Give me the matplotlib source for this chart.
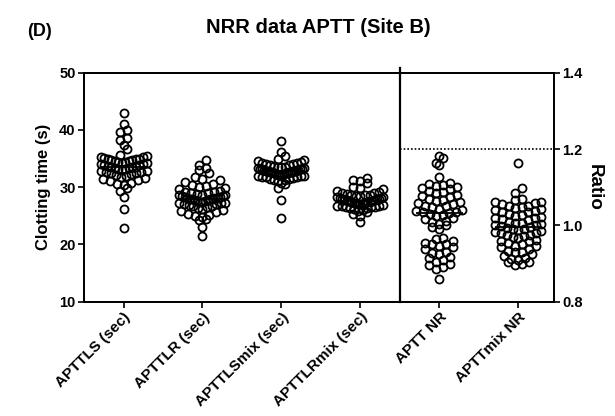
import numpy as np
import matplotlib
matplotlib.use("Agg")
import matplotlib.pyplot as plt

plt.rcParams["font.family"] = ["Liberation Sans", "DejaVu Sans"]
plt.rcParams["font.weight"] = "bold"

categories = ["APTTLS (sec)", "APTTLR (sec)", "APTTLSmix (sec)", "APTTLRmix (sec)",
              "APTT NR", "APTTmix NR"]

aptt_ls = [43.0, 41.0, 40.0, 39.6, 38.6, 38.3, 37.4, 36.6,
           35.7, 35.5, 35.3, 35.2, 35.1, 35.0, 34.9, 34.85, 34.8,
           34.7, 34.6, 34.5, 34.45, 34.4, 34.3, 34.2, 34.1, 34.0, 33.9, 33.8, 33.7,
           33.6,
           33.5, 33.45, 33.4, 33.3, 33.2, 33.1, 33.0, 32.9, 32.8, 32.7, 32.6, 32.5,
           32.4, 32.3, 32.1, 32.0,
           31.8, 31.6, 31.4, 31.2, 31.0, 30.8, 30.6, 30.4,
           29.8, 29.4, 28.3, 26.2, 22.9]
aptt_lr = [34.7, 33.9, 33.4, 33.0, 32.4, 31.7, 31.5, 31.2, 30.9, 30.6, 30.4, 30.2, 30.0,
           29.8, 29.6, 29.4, 29.2, 29.0, 28.9, 28.8, 28.7, 28.6, 28.5, 28.4, 28.3, 28.2,
           28.1, 28.0, 28.0, 27.9, 27.8, 27.7, 27.6, 27.5, 27.4, 27.3, 27.2, 27.1, 27.0,
           26.9, 26.8, 26.6, 26.4, 26.2, 26.0, 25.8, 25.6, 25.4, 25.2, 25.0, 24.8, 24.5,
           24.3, 23.0, 21.5, 27.9, 28.1, 27.6, 28.3, 27.3, 26.7, 29.1, 28.6]
aptt_lsmix = [38.0, 36.2, 35.4, 35.0, 34.7, 34.5, 34.4, 34.3, 34.2, 34.1, 34.0, 33.9, 33.8,
              33.7, 33.6, 33.5, 33.4, 33.3, 33.2, 33.1, 33.0, 33.0, 32.9, 32.8, 32.8, 32.7,
              32.6, 32.6, 32.5, 32.5, 32.4, 32.3, 32.3, 32.2, 32.1, 32.0, 32.0, 31.9, 31.8,
              31.7, 31.6, 31.5, 31.4, 31.3, 31.2, 31.0, 30.8, 30.5, 29.9, 27.8, 24.7, 33.5,
              33.2, 32.9, 32.2, 31.8, 32.7, 33.1]
aptt_lrmix = [31.6, 31.3, 31.0, 30.8, 30.1, 29.8, 29.6, 29.4, 29.2, 29.0, 28.9, 28.8, 28.7,
              28.6, 28.5, 28.4, 28.3, 28.2, 28.1, 28.0, 27.9, 27.8, 27.7, 27.6, 27.6, 27.5,
              27.4, 27.3, 27.2, 27.1, 27.0, 26.9, 26.8, 26.7, 26.6, 26.5, 26.4, 26.3, 26.2,
              26.0, 25.8, 25.6, 25.4, 25.0, 24.0, 28.0, 27.8, 27.5, 27.2, 26.8, 28.3, 26.5,
              27.0, 28.6]
aptt_nr = [1.182, 1.176, 1.164, 1.158, 1.127,
           1.110, 1.108, 1.105, 1.102, 1.100, 1.098, 1.095,
           1.090, 1.087, 1.084, 1.080, 1.077, 1.074, 1.070,
           1.067, 1.064, 1.060, 1.058, 1.055, 1.052, 1.050,
           1.047, 1.044, 1.041, 1.038, 1.036, 1.034, 1.032, 1.030,
           1.027, 1.024, 1.020, 1.016, 1.012, 1.008, 1.004, 1.000, 0.995, 0.990,
           0.968, 0.965, 0.960, 0.955, 0.952, 0.950, 0.945, 0.942, 0.938, 0.930, 0.928,
           0.925, 0.918, 0.915, 0.910, 0.905, 0.900, 0.895, 0.892, 0.885, 0.860]
apttmix_nr = [1.163, 1.097, 1.086, 1.070, 1.066, 1.062, 1.060, 1.058, 1.055, 1.052, 1.050,
              1.048, 1.045, 1.042, 1.040, 1.037, 1.034, 1.031, 1.028, 1.025, 1.022, 1.019,
              1.016, 1.013, 1.010, 1.007, 1.004, 1.001, 0.998, 0.996, 0.994, 0.991, 0.988,
              0.985, 0.982, 0.979, 0.976, 0.973, 0.970, 0.966, 0.962, 0.958, 0.954, 0.950,
              0.946, 0.942, 0.938, 0.934, 0.930, 0.925, 0.920, 0.915, 0.910, 0.905, 0.900,
              0.896, 1.000, 0.990, 0.975, 0.960, 0.945, 1.035, 1.020, 0.930, 0.912, 0.903,
              0.980, 1.005]

left_ticks = [10, 20, 30, 40, 50]
right_ticks = [0.8, 1.0, 1.2, 1.4]
right_tick_labels = ["0.8", "1.0", "1.2", "1.4"]
ratio_limit = 1.2

fig = plt.figure(figsize=(6.15, 4.16), dpi=100)
ax = fig.add_axes([0.1366, 0.2748, 0.7642, 0.5504])
ax.set_xlim(-0.5, 5.45)
ax.set_ylim(10, 50)
ax2 = ax.twinx()
ax2.set_ylim(0.8, 1.4)


def scatter_x(a, pos, vals, bin_px=7.5, step=7.0, maxw=46.0):
    """GraphPad-like column scatter: rows of points spread horizontally."""
    vals = np.asarray(vals, float)
    ys = a.transData.transform(np.column_stack([np.full(len(vals), pos), vals]))[:, 1]
    ymed = a.transData.transform((pos, np.median(vals)))[1]
    bins = np.round((ys - ymed) / bin_px).astype(int)
    offs = np.zeros(len(vals))
    for b in np.unique(bins):
        idx = np.where(bins == b)[0]
        idx = idx[np.argsort(ys[idx])]
        n = len(idx)
        s = step if n <= 1 else min(step, maxw / (n - 1))
        slots = (np.arange(n) - (n - 1) / 2.0) * s
        order = np.argsort(np.abs(slots) + 1e-3 * slots)
        offs[idx] = slots[order]
    x0 = a.transData.transform((pos, 0))[0]
    inv = a.transData.inverted()
    return np.array([inv.transform((x0 + o, 0))[0] for o in offs])


groups = [(ax, aptt_ls), (ax, aptt_lr), (ax, aptt_lsmix), (ax, aptt_lrmix),
          (ax2, aptt_nr), (ax2, apttmix_nr)]
for pos, (a, vals) in enumerate(groups):
    xs = scatter_x(a, pos, vals)
    a.plot(xs, vals, "o", ms=5.8, mfc="none", mec="black", mew=1.3, ls="none",
           clip_on=False, zorder=3)
    a.hlines(np.median(vals), pos - 0.3, pos + 0.3, color="black", lw=1.3, zorder=4)

ax.axvline(3.5, ymin=0, ymax=1.02, color="black", lw=1.6, clip_on=False)
ax2.hlines(ratio_limit, 3.5, 5.45, colors="black", linestyles=(0, (1, 1.2)), lw=1.2)

ax.set_xticks(range(len(categories)))
ax.set_xticklabels(categories, rotation=45, ha="right", rotation_mode="anchor",
                   fontsize=11, fontweight="bold")
ax.set_yticks(left_ticks)
ax.set_yticklabels([str(t) for t in left_ticks], fontsize=10.5, fontweight="bold")
ax2.set_yticks(right_ticks)
ax2.set_yticklabels(right_tick_labels, fontsize=10.5, fontweight="bold")

for a in (ax, ax2):
    for s in a.spines.values():
        s.set_linewidth(1.3)
ax.tick_params(axis="both", direction="out", length=4, width=1.2, pad=2)
ax2.tick_params(axis="y", direction="out", length=4, width=1.2, pad=2)

ax.set_ylabel("Clotting time (s)", fontsize=12, fontweight="bold", labelpad=6)
ax2.set_ylabel("Ratio", fontsize=13.5, fontweight="bold", rotation=-90, labelpad=14)

fig.text(0.517, 0.935, "NRR data APTT (Site B)", ha="center", va="center",
         fontsize=14.5, fontweight="bold")
fig.text(0.065, 0.925, "(D)", ha="center", va="center", fontsize=13, fontweight="bold")

fig.savefig("out.png", dpi=100)
